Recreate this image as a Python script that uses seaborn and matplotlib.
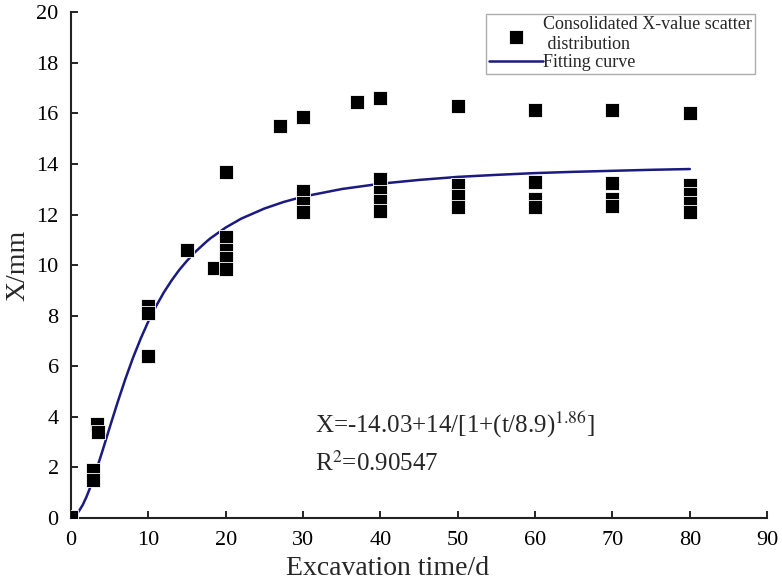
import matplotlib
matplotlib.use("Agg")
import matplotlib.pyplot as plt
import seaborn as sns
import pandas as pd

time_d = [0, 2.8, 2.8, 3.4, 3.5,
          10, 10, 10, 15, 18.5,
          20, 20, 20, 20, 20, 27,
          30, 30, 30, 30, 37,
          40, 40, 40, 40, 40,
          50, 50, 50, 50,
          60, 60, 60, 60,
          70, 70, 70, 70,
          80, 80, 80, 80, 80]
x_mm = [0.05, 1.9, 1.5, 3.7, 3.4,
        8.4, 8.1, 6.4, 10.6, 9.9,
        13.7, 11.1, 10.6, 10.3, 9.85, 15.5,
        15.85, 12.95, 12.45, 12.1, 16.45,
        16.6, 13.4, 12.9, 12.55, 12.15,
        16.3, 13.15, 12.75, 12.3,
        16.15, 13.3, 12.6, 12.3,
        16.15, 13.25, 12.6, 12.35,
        16.0, 13.15, 12.8, 12.45, 12.1]

# fitted curve
curve_t = [0, 0.5, 1, 1.5, 2, 2.5, 3, 3.5, 4, 4.5, 5, 6, 7, 8, 9, 10, 11, 12, 13, 14, 15,
           16, 17.5, 18, 20, 22, 25, 27.5, 30, 35, 40, 45, 50, 55, 60, 65, 70, 75, 80]
curve_x = [0.03, 0.10, 0.27, 0.52, 0.85, 1.24, 1.67, 2.13, 2.61, 3.10, 3.6, 4.57, 5.49, 6.34,
           7.1, 7.79, 8.39, 8.93, 9.40, 9.82, 10.18, 10.51, 10.93, 11.06, 11.49, 11.84, 12.24,
           12.5, 12.71, 13.01, 13.22, 13.37, 13.49, 13.57, 13.64, 13.69, 13.73, 13.77, 13.8]

pts = pd.DataFrame({"t": time_d, "x": x_mm})
fit = pd.DataFrame({"t": curve_t, "x": curve_x})

sns.set_theme(style="ticks")
plt.rcParams['font.family'] = ['Liberation Serif', 'DejaVu Serif']
plt.rcParams['mathtext.fontset'] = 'stix'

fig = plt.figure(figsize=(7.82, 5.84), dpi=100)
ax = fig.add_axes([0.091, 0.113, 0.890, 0.866])

sns.scatterplot(data=pts, x="t", y="x", marker="s", s=95, color="black",
                edgecolor="white", linewidth=0.6, ax=ax,
                label="Consolidated X-value scatter\n distribution", zorder=3)
sns.lineplot(data=fit, x="t", y="x", color="#1a1a80", linewidth=1.8, ax=ax,
             label="Fitting curve", sort=True, zorder=2)

ax.set_xlim(0, 90)
ax.set_ylim(0, 20)
ax.set_xticks(range(0, 91, 10))
ax.set_yticks(range(0, 21, 2))
ax.tick_params(direction="in", labelsize=16, length=5, width=1.2, colors="black")
ax.tick_params(axis="x", pad=9)
ax.tick_params(axis="y", pad=9)
for sp in ["top", "right"]:
    ax.spines[sp].set_visible(False)
for sp in ["left", "bottom"]:
    ax.spines[sp].set_linewidth(1.5)
    ax.spines[sp].set_color("#222222")

ax.set_xlabel("Excavation time/d", fontsize=20)
ax.xaxis.set_label_coords(0.455, -0.076)
ax.set_ylabel("X/mm", fontsize=20, labelpad=4)

ax.text(31.5, 3.36, r"X=-14.03+14/[1+(t/8.9)$^{1.86}$]", fontsize=18)
ax.text(31.5, 1.86, r"R$^2$=0.90547", fontsize=18)

leg = ax.legend(loc="upper right", bbox_to_anchor=(0.982, 0.997), fontsize=13, frameon=True,
                fancybox=False, edgecolor="#999999", handlelength=3.0, handletextpad=0.0,
                borderpad=0.15, labelspacing=0.05, borderaxespad=0.0)
leg.get_frame().set_linewidth(1.0)

fig.savefig("out.png", dpi=100)
